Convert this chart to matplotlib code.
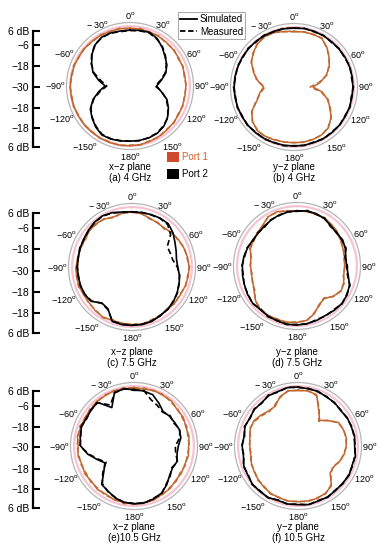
import numpy as np
import matplotlib.pyplot as plt
from matplotlib.lines import Line2D
from matplotlib.patches import Patch

plt.rcParams['font.family'] = ['Liberation Sans', 'DejaVu Sans']
plt.rcParams['mathtext.fontset'] = 'custom'
plt.rcParams['mathtext.rm'] = 'Liberation Sans'

# pattern angles, 10 degree steps, clockwise from the top (0 deg)
angles_deg = np.arange(0, 360, 10)

# normalised gain in dB, one value per angle
# (a) x-z plane, 4 GHz
a_p1_sim = [-1.3, -1.3, -1.4, -1.6, -1.8, -2.0, -2.1, -2.2, -2.3, -2.3, -2.3, -2.2,
            -2.0, -1.8, -1.5, -1.2, -0.8, -0.5, -0.3, -0.2, -0.2, -0.2, -0.3, -0.3,
            -0.4, -0.4, -0.4, -0.4, -0.5, -0.6, -0.7, -0.8, -0.9, -1.0, -1.1, -1.2]
a_p1_meas = [-1.6, -1.0, -1.7, -1.3, -2.2, -1.6, -2.5, -1.9, -2.7, -2.0, -2.6, -1.9,
             -2.4, -1.5, -1.9, -0.9, -1.2, -0.3, -0.7, 0.0, -0.5, -0.1, -0.6, -0.1,
             -0.7, -0.2, -0.7, -0.1, -0.8, -0.3, -1.0, -0.5, -1.2, -0.7, -1.4, -0.9]
a_p2_sim = [-2.3, -2.0, -1.7, -2.9, -5.1, -7.3, -8.9, -11.1, -14.3, -16.8, -14.3, -10.5,
            -8.0, -5.7, -3.9, -2.9, -2.6, -2.6, -2.6, -2.3, -2.0, -2.0, -3.5, -5.4,
            -7.3, -10.5, -14.3, -17.7, -14.3, -10.5, -8.0, -5.4, -3.2, -2.0, -2.0, -2.3]
a_p2_meas = [-2.5, -2.2, -2.0, -3.2, -4.8, -7.0, -9.2, -11.5, -14.8, -17.5, -14.0, -10.8,
             -8.3, -5.5, -4.2, -3.1, -2.8, -2.4, -2.7, -2.5, -2.2, -2.3, -3.8, -5.6,
             -7.6, -10.8, -15.0, -18.5, -15.5, -11.0, -7.8, -5.2, -3.0, -2.2, -2.1, -2.6]

# (b) y-z plane, 4 GHz
b_p1_sim = [-2.4, -2.3, -2.1, -2.3, -4.5, -7.3, -9.8, -13.0, -16.8, -20.6, -15.8, -12.4,
            -9.2, -6.1, -3.5, -2.6, -2.3, -2.3, -2.3, -2.3, -2.0, -1.7, -1.7, -3.2,
            -5.7, -10.5, -12.7, -14.9, -11.7, -8.6, -5.7, -3.5, -2.0, -1.0, -1.3, -2.0]
b_p1_meas = [-2.6, -2.1, -2.4, -2.0, -4.8, -7.0, -10.2, -12.6, -17.5, -22.0, -16.5, -12.0,
             -9.6, -5.8, -3.8, -2.4, -2.5, -2.1, -2.5, -2.2, -2.3, -1.5, -2.0, -3.0,
             -6.0, -10.0, -13.2, -15.5, -11.2, -9.0, -5.4, -3.8, -1.7, -1.3, -1.0, -2.2]
b_p2_sim = [-0.7, -0.6, -0.6, -0.7, -0.8, -0.8, -0.7, -0.7, -0.7, -0.8, -0.8, -0.7,
            -0.7, -0.6, -0.6, -0.6, -0.7, -0.7, -0.7, -0.7, -0.6, -0.5, -0.4, -0.3,
            -0.3, -0.3, -0.3, -0.3, -0.3, -0.4, -0.4, -0.5, -0.5, -0.6, -0.6, -0.7]
b_p2_meas = [-0.9, -0.4, -0.9, -0.5, -1.1, -0.6, -1.0, -0.4, -1.1, -0.5, -1.2, -0.5,
             -1.0, -0.4, -0.9, -0.3, -1.0, -0.5, -0.9, -0.4, -0.8, -0.2, -0.7, 0.0,
             -0.6, -0.1, -0.6, 0.0, -0.6, -0.1, -0.7, -0.2, -0.8, -0.3, -0.9, -0.4]

# (c) x-z plane, 7.5 GHz
c_p1_sim = [-2.6, -3.2, -4.2, -4.8, -4.8, -3.9, -3.2, -2.6, -2.0, -1.7, -1.7, -2.0,
            -2.3, -2.3, -2.6, -2.3, -1.7, -1.3, -1.3, -1.7, -1.7, -1.3, -1.7, -2.3,
            -2.3, -2.0, -2.0, -2.3, -2.6, -2.9, -2.9, -2.3, -2.0, -2.6, -3.5, -2.9]
c_p1_meas = [-2.9, -3.0, -4.6, -4.4, -5.3, -3.6, -3.6, -2.3, -2.4, -1.4, -2.1, -1.7,
             -2.7, -2.0, -3.0, -2.0, -2.1, -1.0, -1.7, -1.4, -2.1, -1.0, -2.1, -2.0,
             -2.7, -1.7, -2.4, -2.0, -3.0, -2.6, -3.3, -2.0, -2.4, -2.3, -3.9, -2.6]
c_p2_sim = [-2.6, -2.6, -2.3, -2.0, -2.0, -3.5, -5.4, -6.7, -7.6, -7.3, -6.1, -5.1,
            -4.2, -3.2, -2.6, -2.0, -1.3, -1.0, -1.0, -1.0, -1.3, -6.1, -6.7, -3.5,
            -2.9, -2.9, -2.9, -2.9, -2.9, -2.6, -2.3, -1.7, -1.0, -0.7, -1.3, -2.3]
c_p2_meas = [-2.8, -2.4, -2.5, -2.2, -2.5, -5.0, -9.8, -9.8, -9.5, -7.5, -6.0, -5.3,
             -4.0, -3.4, -2.4, -2.2, -1.5, -1.2, -1.3, -1.1, -1.5, -5.8, -6.5, -3.8,
             -3.0, -2.7, -3.1, -2.8, -3.0, -2.4, -2.5, -1.9, -1.2, -0.9, -1.5, -2.5]

# (d) y-z plane, 7.5 GHz
d_p1_sim = [-2.6, -2.6, -2.6, -2.6, -3.2, -3.9, -4.8, -5.7, -6.1, -6.4, -6.4, -5.4,
            -4.8, -6.7, -8.9, -8.0, -4.8, -2.6, -2.0, -1.7, -1.7, -1.7, -1.7, -3.2,
            -5.4, -6.7, -7.0, -7.0, -6.7, -5.4, -4.8, -4.5, -3.5, -1.7, -1.3, -2.3]
d_p1_meas = [-2.8, -2.4, -2.9, -2.3, -3.5, -3.6, -5.2, -5.3, -6.5, -6.0, -6.8, -5.0,
             -5.2, -6.4, -9.3, -7.6, -5.2, -2.3, -2.3, -1.4, -2.0, -1.5, -2.0, -3.0,
             -5.8, -6.4, -7.4, -6.7, -7.1, -5.1, -5.2, -4.2, -3.9, -1.5, -1.6, -2.1]
d_p2_sim = [-2.6, -2.3, -2.3, -2.9, -3.9, -4.5, -3.9, -4.5, -5.4, -5.4, -4.2, -2.3,
            -1.3, -1.0, -1.3, -1.7, -1.3, -1.0, -0.7, -0.7, -1.0, -1.3, -1.7, -1.3,
            -1.7, -2.3, -2.6, -2.9, -3.2, -3.9, -4.5, -4.8, -4.5, -3.9, -3.2, -2.9]
d_p2_meas = [-2.9, -2.0, -2.6, -2.6, -4.3, -4.2, -4.3, -4.1, -5.8, -5.0, -4.6, -2.0,
             -1.6, -0.8, -1.7, -1.4, -1.7, -0.8, -1.0, -0.5, -1.3, -1.0, -2.1, -1.1,
             -2.0, -2.0, -3.0, -2.6, -3.6, -3.6, -4.9, -4.5, -4.9, -3.6, -3.5, -2.6]

# (e) x-z plane, 10.5 GHz
e_p1_sim = [-1.0, -1.4, -0.7, -1.1, -1.0, -2.0, -1.7, -2.6, -2.3, -2.9, -2.6, -3.2,
            -2.9, -3.2, -2.3, -2.3, -1.4, -1.6, -1.1, -1.6, -1.5, -2.3, -1.8, -2.6,
            -2.0, -2.6, -1.8, -2.3, -1.5, -2.0, -1.8, -1.9, -1.1, -1.3, -0.8, -1.2]
e_p1_meas = [-1.4, -0.8, -1.1, -0.6, -1.5, -1.6, -2.3, -2.1, -2.9, -2.5, -3.2, -2.7,
             -3.5, -2.7, -2.8, -1.9, -1.8, -1.1, -1.6, -1.0, -2.0, -1.7, -2.4, -2.1,
             -2.7, -2.2, -2.3, -1.7, -2.0, -1.4, -2.3, -1.4, -1.6, -0.8, -1.3, -0.7]
e_p2_sim = [-2.0, -2.3, -2.9, -5.4, -7.6, -7.0, -6.7, -6.1, -6.4, -8.0, -8.3, -7.3,
            -8.0, -7.0, -4.8, -2.9, -2.0, -1.3, -1.3, -1.7, -2.6, -4.2, -5.1, -10.5,
            -13.3, -10.5, -6.7, -3.5, -2.9, -2.3, -2.6, -2.3, -1.7, -8.0, -1.7, -1.3]
e_p2_meas = [-2.4, -2.0, -5.5, -6.8, -8.0, -6.6, -7.2, -5.8, -7.0, -9.5, -9.0, -7.0,
             -8.4, -6.6, -5.2, -2.6, -2.3, -1.1, -1.6, -1.5, -2.9, -3.9, -5.6, -9.8,
             -14.0, -11.0, -7.2, -3.2, -3.2, -2.0, -2.9, -2.1, -2.0, -6.5, -2.0, -1.1]

# (f) y-z plane, 10.5 GHz
f_p1_sim = [-2.3, -2.3, -2.9, -9.5, -13.3, -10.5, -6.7, -6.1, -5.7, -6.1, -6.7, -8.0,
            -9.5, -9.2, -4.2, -2.9, -2.3, -2.3, -2.3, -2.3, -2.6, -2.9, -3.5, -4.2,
            -4.8, -5.4, -6.1, -6.1, -5.7, -4.8, -4.8, -6.1, -7.3, -7.3, -3.9, -2.3]
f_p1_meas = [-2.6, -2.0, -3.4, -8.8, -14.0, -10.0, -7.1, -5.8, -6.0, -5.8, -7.1, -7.6,
             -10.0, -8.6, -4.6, -2.6, -2.6, -2.0, -2.6, -2.1, -2.9, -2.6, -3.9, -3.8,
             -5.2, -5.0, -6.6, -5.7, -6.1, -4.5, -5.3, -6.6, -7.8, -6.7, -4.3, -2.0]
f_p2_sim = [-0.7, -1.2, -1.1, -1.9, -1.8, -2.5, -1.8, -1.9, -1.5, -1.9, -1.1, -1.5,
            -0.8, -1.2, -1.1, -0.8, -0.9, -0.5, -0.9, -0.8, -1.2, -0.5, -0.6, -0.5,
            -1.2, -1.4, -2.5, -2.3, -2.8, -2.0, -2.3, -1.8, -1.9, -1.1, -1.2, -0.6]
f_p2_meas = [-1.0, -0.9, -1.4, -1.6, -2.1, -2.2, -2.1, -1.6, -1.8, -1.6, -1.4, -1.2,
             -1.1, -0.9, -1.4, -0.6, -1.2, -0.3, -1.2, -0.6, -1.5, -0.3, -0.9, -0.3,
             -1.5, -1.1, -2.8, -2.0, -3.1, -1.7, -2.6, -1.5, -2.2, -0.8, -1.5, -0.4]

angle_ticks = [0, 30, 60, 90, 120, 150, 180, -150, -120, -90, -60, -30]
angle_labels = ['0', '30', '60', '90', '120', '150', '180',
                '\u2212150', '\u2212120', '\u221290', '\u221260', '\u2212 30']
planes = ['x\u2212z plane', 'y\u2212z plane', 'x\u2212z plane', 'y\u2212z plane',
          'x\u2212z plane', 'y\u2212z plane']
captions = ['(a) 4 GHz', '(b) 4 GHz', '(c) 7.5 GHz', '(d) 7.5 GHz',
            '(e)10.5 GHz', '(f) 10.5 GHz']
scale_labels = ['6 dB', '\u22126', '\u221218', '\u221230', '\u221218', '\u221218', '6 dB']
legend_labels = ['Simulated', 'Measured']
port_labels = ['Port 1', 'Port 2']

ORANGE = '#c2672f'
PORT1_SQ = '#cf4a2c'
W, H = 387, 550
R = 63.5
RMIN, RMAX = -30, 1.5

fig = plt.figure(figsize=(3.87, 5.5), dpi=100)

panels = [
    ((130, 86), a_p1_sim, a_p1_meas, a_p2_sim, a_p2_meas, (167, 178)),
    ((294, 87), b_p1_sim, b_p1_meas, b_p2_sim, b_p2_meas, (167, 178)),
    ((132, 267), c_p1_sim, c_p1_meas, c_p2_sim, c_p2_meas, (352, 363)),
    ((297, 266), d_p1_sim, d_p1_meas, d_p2_sim, d_p2_meas, (352, 363)),
    ((134, 446), e_p1_sim, e_p1_meas, e_p2_sim, e_p2_meas, (527, 538)),
    ((298, 446), f_p1_sim, f_p1_meas, f_p2_sim, f_p2_meas, (527, 538)),
]

th = np.deg2rad(np.append(angles_deg, 360))


def closed(v):
    return np.append(v, v[0])


for i, ((cx, cy), p1s, p1m, p2s, p2m, (ty1, ty2)) in enumerate(panels):
    ax = fig.add_axes([(cx - R) / W, 1 - (cy + R) / H, 2 * R / W, 2 * R / H],
                      projection='polar')
    ax.set_theta_zero_location('N')
    ax.set_theta_direction(-1)
    ax.set_ylim(RMIN, RMAX)
    ax.set_yticks([])
    ax.set_xticks([])
    ax.grid(False)
    ax.spines['polar'].set_color('#b5b5b5')
    ax.spines['polar'].set_linewidth(0.9)
    full = np.linspace(0, 2 * np.pi, 300)
    ax.plot(full, np.full_like(full, -0.3), color='#f5c4d2', lw=1.6)

    ax.plot(th, closed(p1s), color=ORANGE, lw=1.1)
    ax.plot(th, closed(p1m), color=ORANGE, lw=1.1, ls=(0, (3.5, 2)))
    ax.plot(th, closed(p2s), color='black', lw=1.2)
    ax.plot(th, closed(p2m), color='black', lw=1.2, ls=(0, (3.5, 2)))

    for t, lab in zip(angle_ticks, angle_labels):
        s, c = np.sin(np.deg2rad(t)), np.cos(np.deg2rad(t))
        if abs(s) > 0.8:
            ha = 'left' if s > 0 else 'right'
            va = 'center'
            rr = RMAX + 0.4
        else:
            ha = 'center'
            va = 'bottom' if c > 0 else 'top'
            rr = RMAX + 0.6
            if abs(s) > 0.3 and c < 0:
                ha = 'left' if s > 0 else 'right'
                rr = RMAX + 0.2
        ax.text(np.deg2rad(t), rr, lab + '$^{\\mathrm{o}}$', ha=ha, va=va,
                fontsize=6.5, clip_on=False)

    fig.text(cx / W, 1 - ty1 / H, planes[i], ha='center', va='center', fontsize=7)
    fig.text(cx / W, 1 - ty2 / H, captions[i], ha='center', va='center', fontsize=7)

# dB scale bars on the left
scale_pos = [0, 0.124, 0.305, 0.481, 0.661, 0.833, 1.0]
for top, bottom in [(31, 147.3), (212.7, 333.3), (391, 508.3)]:
    sax = fig.add_axes([33 / W, 1 - bottom / H, 0.03, (bottom - top) / H])
    sax.set_ylim(1, 0)
    sax.set_xlim(0, 1)
    sax.set_yticks(scale_pos, scale_labels)
    sax.set_xticks([])
    for s in ['top', 'right', 'bottom']:
        sax.spines[s].set_visible(False)
    sax.spines['left'].set_linewidth(1.6)
    sax.tick_params(axis='y', direction='in', length=5, width=1.5, pad=3, labelsize=7.5)
    sax.patch.set_visible(False)

# line style legend
handles = [Line2D([], [], color='black', lw=1.3),
           Line2D([], [], color='black', lw=1.3, ls=(0, (3, 1.5)))]
leg = fig.legend(handles, legend_labels, loc='upper left',
                 bbox_to_anchor=(178 / W, 1 - 12 / H), fontsize=7,
                 handlelength=1.7, handletextpad=0.3, borderpad=0.25,
                 labelspacing=0.25, fancybox=False, edgecolor='#999999',
                 borderaxespad=0, framealpha=1)
leg.get_frame().set_linewidth(0.6)

# port colour legend
phandles = [Patch(facecolor=PORT1_SQ, edgecolor='none'),
            Patch(facecolor='black', edgecolor='none')]
leg2 = fig.legend(phandles, port_labels, loc='upper left',
                  bbox_to_anchor=(165 / W, 1 - 150 / H), fontsize=7,
                  handlelength=1.2, handleheight=1.2, handletextpad=0.4,
                  labelspacing=0.7, frameon=False, borderaxespad=0, borderpad=0.2)
leg2.get_texts()[0].set_color('#d4612b')

fig.savefig('out.png', dpi=100)
